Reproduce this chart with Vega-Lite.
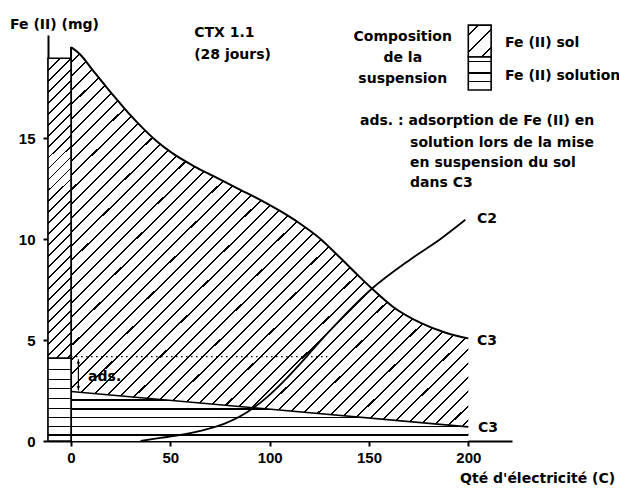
{
  "$schema": "https://vega.github.io/schema/vega-lite/v6.json",
  "width": 464,
  "height": 406,
  "autosize": "none",
  "padding": {"left": 48, "top": 35, "right": 107, "bottom": 50},
  "background": "white",
  "config": {
    "view": {"stroke": null},
    "text": {"font": "DejaVu Sans", "fontWeight": "bold", "fontSize": 14, "color": "#000"}
  },
  "data": {"values": [{}]},
  "datasets": {
    "sol": [
      {"q": 0, "fe": 19.5}, {"q": 4.5, "fe": 19.15}, {"q": 11, "fe": 18.35}, {"q": 18, "fe": 17.5},
      {"q": 24, "fe": 16.8}, {"q": 30, "fe": 16.12}, {"q": 36, "fe": 15.5}, {"q": 43, "fe": 14.85},
      {"q": 51, "fe": 14.25}, {"q": 62, "fe": 13.6}, {"q": 72, "fe": 13.1}, {"q": 85, "fe": 12.45},
      {"q": 95, "fe": 11.95}, {"q": 105, "fe": 11.4}, {"q": 115, "fe": 10.78}, {"q": 125, "fe": 10.05},
      {"q": 135, "fe": 9.12}, {"q": 145, "fe": 8.15}, {"q": 152, "fe": 7.5}, {"q": 162, "fe": 6.65},
      {"q": 176, "fe": 5.85}, {"q": 189, "fe": 5.35}, {"q": 200, "fe": 5.08}
    ],
    "solution": [{"q": 0, "fe": 2.45}, {"q": 200, "fe": 0.7}],
    "c2": [
      {"q": 35, "fe": 0}, {"q": 45, "fe": 0.15}, {"q": 55, "fe": 0.3}, {"q": 65, "fe": 0.5},
      {"q": 77, "fe": 0.85}, {"q": 89, "fe": 1.45}, {"q": 99, "fe": 2.2}, {"q": 109, "fe": 3.15},
      {"q": 117, "fe": 4.0}, {"q": 125, "fe": 4.9}, {"q": 135, "fe": 5.95}, {"q": 151, "fe": 7.5},
      {"q": 171, "fe": 9.0}, {"q": 186, "fe": 10.0}, {"q": 198.5, "fe": 10.95}
    ],
    "bar": [
      {"part": "sol", "lo": 4.1, "hi": 18.95},
      {"part": "solution", "lo": 0, "hi": 4.1}
    ]
  },
  "layer": [
    {
      "data": {"name": "sol"},
      "mark": {
        "type": "area", "interpolate": "monotone",
        "fill": {"gradient": "linear", "x1": 0, "y1": 0, "x2": 1, "y2": 1, "stops": [
          {"offset": 0, "color": "#fff"},
          {"offset": 0.018, "color": "#fff"}, {"offset": 0.018, "color": "#000"}, {"offset": 0.0206, "color": "#000"}, {"offset": 0.0206, "color": "#fff"},
          {"offset": 0.036, "color": "#fff"}, {"offset": 0.036, "color": "#000"}, {"offset": 0.0386, "color": "#000"}, {"offset": 0.0386, "color": "#fff"},
          {"offset": 0.054, "color": "#fff"}, {"offset": 0.054, "color": "#000"}, {"offset": 0.0566, "color": "#000"}, {"offset": 0.0566, "color": "#fff"},
          {"offset": 0.072, "color": "#fff"}, {"offset": 0.072, "color": "#000"}, {"offset": 0.0746, "color": "#000"}, {"offset": 0.0746, "color": "#fff"},
          {"offset": 0.090, "color": "#fff"}, {"offset": 0.090, "color": "#000"}, {"offset": 0.0926, "color": "#000"}, {"offset": 0.0926, "color": "#fff"},
          {"offset": 0.108, "color": "#fff"}, {"offset": 0.108, "color": "#000"}, {"offset": 0.1106, "color": "#000"}, {"offset": 0.1106, "color": "#fff"},
          {"offset": 0.126, "color": "#fff"}, {"offset": 0.126, "color": "#000"}, {"offset": 0.1286, "color": "#000"}, {"offset": 0.1286, "color": "#fff"},
          {"offset": 0.144, "color": "#fff"}, {"offset": 0.144, "color": "#000"}, {"offset": 0.1466, "color": "#000"}, {"offset": 0.1466, "color": "#fff"},
          {"offset": 0.162, "color": "#fff"}, {"offset": 0.162, "color": "#000"}, {"offset": 0.1646, "color": "#000"}, {"offset": 0.1646, "color": "#fff"},
          {"offset": 0.180, "color": "#fff"}, {"offset": 0.180, "color": "#000"}, {"offset": 0.1826, "color": "#000"}, {"offset": 0.1826, "color": "#fff"},
          {"offset": 0.198, "color": "#fff"}, {"offset": 0.198, "color": "#000"}, {"offset": 0.2006, "color": "#000"}, {"offset": 0.2006, "color": "#fff"},
          {"offset": 0.216, "color": "#fff"}, {"offset": 0.216, "color": "#000"}, {"offset": 0.2186, "color": "#000"}, {"offset": 0.2186, "color": "#fff"},
          {"offset": 0.234, "color": "#fff"}, {"offset": 0.234, "color": "#000"}, {"offset": 0.2366, "color": "#000"}, {"offset": 0.2366, "color": "#fff"},
          {"offset": 0.252, "color": "#fff"}, {"offset": 0.252, "color": "#000"}, {"offset": 0.2546, "color": "#000"}, {"offset": 0.2546, "color": "#fff"},
          {"offset": 0.270, "color": "#fff"}, {"offset": 0.270, "color": "#000"}, {"offset": 0.2726, "color": "#000"}, {"offset": 0.2726, "color": "#fff"},
          {"offset": 0.288, "color": "#fff"}, {"offset": 0.288, "color": "#000"}, {"offset": 0.2906, "color": "#000"}, {"offset": 0.2906, "color": "#fff"},
          {"offset": 0.306, "color": "#fff"}, {"offset": 0.306, "color": "#000"}, {"offset": 0.3086, "color": "#000"}, {"offset": 0.3086, "color": "#fff"},
          {"offset": 0.324, "color": "#fff"}, {"offset": 0.324, "color": "#000"}, {"offset": 0.3266, "color": "#000"}, {"offset": 0.3266, "color": "#fff"},
          {"offset": 0.342, "color": "#fff"}, {"offset": 0.342, "color": "#000"}, {"offset": 0.3446, "color": "#000"}, {"offset": 0.3446, "color": "#fff"},
          {"offset": 0.360, "color": "#fff"}, {"offset": 0.360, "color": "#000"}, {"offset": 0.3626, "color": "#000"}, {"offset": 0.3626, "color": "#fff"},
          {"offset": 0.378, "color": "#fff"}, {"offset": 0.378, "color": "#000"}, {"offset": 0.3806, "color": "#000"}, {"offset": 0.3806, "color": "#fff"},
          {"offset": 0.396, "color": "#fff"}, {"offset": 0.396, "color": "#000"}, {"offset": 0.3986, "color": "#000"}, {"offset": 0.3986, "color": "#fff"},
          {"offset": 0.414, "color": "#fff"}, {"offset": 0.414, "color": "#000"}, {"offset": 0.4166, "color": "#000"}, {"offset": 0.4166, "color": "#fff"},
          {"offset": 0.432, "color": "#fff"}, {"offset": 0.432, "color": "#000"}, {"offset": 0.4346, "color": "#000"}, {"offset": 0.4346, "color": "#fff"},
          {"offset": 0.450, "color": "#fff"}, {"offset": 0.450, "color": "#000"}, {"offset": 0.4526, "color": "#000"}, {"offset": 0.4526, "color": "#fff"},
          {"offset": 0.468, "color": "#fff"}, {"offset": 0.468, "color": "#000"}, {"offset": 0.4706, "color": "#000"}, {"offset": 0.4706, "color": "#fff"},
          {"offset": 0.486, "color": "#fff"}, {"offset": 0.486, "color": "#000"}, {"offset": 0.4886, "color": "#000"}, {"offset": 0.4886, "color": "#fff"},
          {"offset": 0.504, "color": "#fff"}, {"offset": 0.504, "color": "#000"}, {"offset": 0.5066, "color": "#000"}, {"offset": 0.5066, "color": "#fff"},
          {"offset": 0.522, "color": "#fff"}, {"offset": 0.522, "color": "#000"}, {"offset": 0.5246, "color": "#000"}, {"offset": 0.5246, "color": "#fff"},
          {"offset": 0.540, "color": "#fff"}, {"offset": 0.540, "color": "#000"}, {"offset": 0.5426, "color": "#000"}, {"offset": 0.5426, "color": "#fff"},
          {"offset": 0.558, "color": "#fff"}, {"offset": 0.558, "color": "#000"}, {"offset": 0.5606, "color": "#000"}, {"offset": 0.5606, "color": "#fff"},
          {"offset": 0.576, "color": "#fff"}, {"offset": 0.576, "color": "#000"}, {"offset": 0.5786, "color": "#000"}, {"offset": 0.5786, "color": "#fff"},
          {"offset": 0.594, "color": "#fff"}, {"offset": 0.594, "color": "#000"}, {"offset": 0.5966, "color": "#000"}, {"offset": 0.5966, "color": "#fff"},
          {"offset": 0.612, "color": "#fff"}, {"offset": 0.612, "color": "#000"}, {"offset": 0.6146, "color": "#000"}, {"offset": 0.6146, "color": "#fff"},
          {"offset": 0.630, "color": "#fff"}, {"offset": 0.630, "color": "#000"}, {"offset": 0.6326, "color": "#000"}, {"offset": 0.6326, "color": "#fff"},
          {"offset": 0.648, "color": "#fff"}, {"offset": 0.648, "color": "#000"}, {"offset": 0.6506, "color": "#000"}, {"offset": 0.6506, "color": "#fff"},
          {"offset": 0.666, "color": "#fff"}, {"offset": 0.666, "color": "#000"}, {"offset": 0.6686, "color": "#000"}, {"offset": 0.6686, "color": "#fff"},
          {"offset": 0.684, "color": "#fff"}, {"offset": 0.684, "color": "#000"}, {"offset": 0.6866, "color": "#000"}, {"offset": 0.6866, "color": "#fff"},
          {"offset": 0.702, "color": "#fff"}, {"offset": 0.702, "color": "#000"}, {"offset": 0.7046, "color": "#000"}, {"offset": 0.7046, "color": "#fff"},
          {"offset": 0.720, "color": "#fff"}, {"offset": 0.720, "color": "#000"}, {"offset": 0.7226, "color": "#000"}, {"offset": 0.7226, "color": "#fff"},
          {"offset": 0.738, "color": "#fff"}, {"offset": 0.738, "color": "#000"}, {"offset": 0.7406, "color": "#000"}, {"offset": 0.7406, "color": "#fff"},
          {"offset": 0.756, "color": "#fff"}, {"offset": 0.756, "color": "#000"}, {"offset": 0.7586, "color": "#000"}, {"offset": 0.7586, "color": "#fff"},
          {"offset": 0.774, "color": "#fff"}, {"offset": 0.774, "color": "#000"}, {"offset": 0.7766, "color": "#000"}, {"offset": 0.7766, "color": "#fff"},
          {"offset": 0.792, "color": "#fff"}, {"offset": 0.792, "color": "#000"}, {"offset": 0.7946, "color": "#000"}, {"offset": 0.7946, "color": "#fff"},
          {"offset": 0.810, "color": "#fff"}, {"offset": 0.810, "color": "#000"}, {"offset": 0.8126, "color": "#000"}, {"offset": 0.8126, "color": "#fff"},
          {"offset": 0.828, "color": "#fff"}, {"offset": 0.828, "color": "#000"}, {"offset": 0.8306, "color": "#000"}, {"offset": 0.8306, "color": "#fff"},
          {"offset": 0.846, "color": "#fff"}, {"offset": 0.846, "color": "#000"}, {"offset": 0.8486, "color": "#000"}, {"offset": 0.8486, "color": "#fff"},
          {"offset": 0.864, "color": "#fff"}, {"offset": 0.864, "color": "#000"}, {"offset": 0.8666, "color": "#000"}, {"offset": 0.8666, "color": "#fff"},
          {"offset": 0.882, "color": "#fff"}, {"offset": 0.882, "color": "#000"}, {"offset": 0.8846, "color": "#000"}, {"offset": 0.8846, "color": "#fff"},
          {"offset": 0.900, "color": "#fff"}, {"offset": 0.900, "color": "#000"}, {"offset": 0.9026, "color": "#000"}, {"offset": 0.9026, "color": "#fff"},
          {"offset": 0.918, "color": "#fff"}, {"offset": 0.918, "color": "#000"}, {"offset": 0.9206, "color": "#000"}, {"offset": 0.9206, "color": "#fff"},
          {"offset": 0.936, "color": "#fff"}, {"offset": 0.936, "color": "#000"}, {"offset": 0.9386, "color": "#000"}, {"offset": 0.9386, "color": "#fff"},
          {"offset": 0.954, "color": "#fff"}, {"offset": 0.954, "color": "#000"}, {"offset": 0.9566, "color": "#000"}, {"offset": 0.9566, "color": "#fff"},
          {"offset": 0.972, "color": "#fff"}, {"offset": 0.972, "color": "#000"}, {"offset": 0.9746, "color": "#000"}, {"offset": 0.9746, "color": "#fff"},
          {"offset": 0.990, "color": "#fff"}, {"offset": 0.990, "color": "#000"}, {"offset": 0.9926, "color": "#000"}, {"offset": 0.9926, "color": "#fff"},
          {"offset": 1, "color": "#fff"}
        ]}
      },
      "encoding": {
        "x": {
          "field": "q", "type": "quantitative",
          "scale": {"domain": [-11.6, 222], "nice": false, "zero": false},
          "axis": {"values": [0, 50, 100, 150, 200], "title": null, "grid": false,
            "domainColor": "#000", "domainWidth": 2, "tickColor": "#000", "tickWidth": 2, "tickSize": 5,
            "labelFont": "Liberation Sans", "labelFontWeight": "bold", "labelFontSize": 15, "labelColor": "#000",
            "labelPadding": 4, "labelFlush": false}
        },
        "y": {
          "field": "fe", "type": "quantitative",
          "scale": {"domain": [0, 20.1], "nice": false, "zero": false},
          "axis": {"values": [0, 5, 10, 15], "title": null, "grid": false,
            "domainColor": "#000", "domainWidth": 2, "tickColor": "#000", "tickWidth": 2, "tickSize": 5,
            "labelFont": "Liberation Sans", "labelFontWeight": "bold", "labelFontSize": 15, "labelColor": "#000",
            "labelPadding": 8, "labelFlush": false}
        }
      }
    },
    {
      "data": {"name": "solution"},
      "mark": {
        "type": "area", "interpolate": "linear",
        "fill": {"gradient": "linear", "x1": 0, "y1": 0, "x2": 0, "y2": 1, "stops": [
          {"offset": 0, "color": "#fff"},
          {"offset": 0.159, "color": "#fff"}, {"offset": 0.159, "color": "#000"}, {"offset": 0.185, "color": "#000"}, {"offset": 0.185, "color": "#fff"},
          {"offset": 0.341, "color": "#fff"}, {"offset": 0.341, "color": "#000"}, {"offset": 0.367, "color": "#000"}, {"offset": 0.367, "color": "#fff"},
          {"offset": 0.508, "color": "#fff"}, {"offset": 0.508, "color": "#000"}, {"offset": 0.534, "color": "#000"}, {"offset": 0.534, "color": "#fff"},
          {"offset": 0.698, "color": "#fff"}, {"offset": 0.698, "color": "#000"}, {"offset": 0.724, "color": "#000"}, {"offset": 0.724, "color": "#fff"},
          {"offset": 0.866, "color": "#fff"}, {"offset": 0.866, "color": "#000"}, {"offset": 0.892, "color": "#000"}, {"offset": 0.892, "color": "#fff"},
          {"offset": 1, "color": "#fff"}
        ]}
      },
      "encoding": {
        "x": {"field": "q", "type": "quantitative"},
        "y": {"field": "fe", "type": "quantitative"}
      }
    },
    {
      "data": {"name": "sol"},
      "mark": {"type": "line", "interpolate": "monotone", "color": "#000", "strokeWidth": 2},
      "encoding": {
        "x": {"field": "q", "type": "quantitative"},
        "y": {"field": "fe", "type": "quantitative"}
      }
    },
    {
      "data": {"name": "solution"},
      "mark": {"type": "line", "color": "#000", "strokeWidth": 1.6},
      "encoding": {
        "x": {"field": "q", "type": "quantitative"},
        "y": {"field": "fe", "type": "quantitative"}
      }
    },
    {
      "mark": {"type": "rule", "color": "#000", "strokeWidth": 2},
      "encoding": {
        "x": {"datum": 0},
        "y": {"datum": 0},
        "y2": {"datum": 19.5}
      }
    },
    {
      "data": {"name": "bar"},
      "transform": [{"filter": "datum.part === 'sol'"}],
      "mark": {
        "type": "rect", "stroke": "#000", "strokeWidth": 1.6,
        "fill": {"gradient": "linear", "x1": 0, "y1": 0, "x2": 0.0821, "y2": 1.0704, "stops": [
          {"offset": 0, "color": "#fff"},
          {"offset": 0.034, "color": "#fff"}, {"offset": 0.034, "color": "#000"}, {"offset": 0.040, "color": "#000"}, {"offset": 0.040, "color": "#fff"},
          {"offset": 0.068, "color": "#fff"}, {"offset": 0.068, "color": "#000"}, {"offset": 0.074, "color": "#000"}, {"offset": 0.074, "color": "#fff"},
          {"offset": 0.102, "color": "#fff"}, {"offset": 0.102, "color": "#000"}, {"offset": 0.108, "color": "#000"}, {"offset": 0.108, "color": "#fff"},
          {"offset": 0.136, "color": "#fff"}, {"offset": 0.136, "color": "#000"}, {"offset": 0.142, "color": "#000"}, {"offset": 0.142, "color": "#fff"},
          {"offset": 0.170, "color": "#fff"}, {"offset": 0.170, "color": "#000"}, {"offset": 0.176, "color": "#000"}, {"offset": 0.176, "color": "#fff"},
          {"offset": 0.204, "color": "#fff"}, {"offset": 0.204, "color": "#000"}, {"offset": 0.210, "color": "#000"}, {"offset": 0.210, "color": "#fff"},
          {"offset": 0.238, "color": "#fff"}, {"offset": 0.238, "color": "#000"}, {"offset": 0.244, "color": "#000"}, {"offset": 0.244, "color": "#fff"},
          {"offset": 0.272, "color": "#fff"}, {"offset": 0.272, "color": "#000"}, {"offset": 0.278, "color": "#000"}, {"offset": 0.278, "color": "#fff"},
          {"offset": 0.306, "color": "#fff"}, {"offset": 0.306, "color": "#000"}, {"offset": 0.312, "color": "#000"}, {"offset": 0.312, "color": "#fff"},
          {"offset": 0.340, "color": "#fff"}, {"offset": 0.340, "color": "#000"}, {"offset": 0.346, "color": "#000"}, {"offset": 0.346, "color": "#fff"},
          {"offset": 0.374, "color": "#fff"}, {"offset": 0.374, "color": "#000"}, {"offset": 0.380, "color": "#000"}, {"offset": 0.380, "color": "#fff"},
          {"offset": 0.408, "color": "#fff"}, {"offset": 0.408, "color": "#000"}, {"offset": 0.414, "color": "#000"}, {"offset": 0.414, "color": "#fff"},
          {"offset": 0.442, "color": "#fff"}, {"offset": 0.442, "color": "#000"}, {"offset": 0.448, "color": "#000"}, {"offset": 0.448, "color": "#fff"},
          {"offset": 0.476, "color": "#fff"}, {"offset": 0.476, "color": "#000"}, {"offset": 0.482, "color": "#000"}, {"offset": 0.482, "color": "#fff"},
          {"offset": 0.510, "color": "#fff"}, {"offset": 0.510, "color": "#000"}, {"offset": 0.516, "color": "#000"}, {"offset": 0.516, "color": "#fff"},
          {"offset": 0.544, "color": "#fff"}, {"offset": 0.544, "color": "#000"}, {"offset": 0.550, "color": "#000"}, {"offset": 0.550, "color": "#fff"},
          {"offset": 0.578, "color": "#fff"}, {"offset": 0.578, "color": "#000"}, {"offset": 0.584, "color": "#000"}, {"offset": 0.584, "color": "#fff"},
          {"offset": 0.612, "color": "#fff"}, {"offset": 0.612, "color": "#000"}, {"offset": 0.618, "color": "#000"}, {"offset": 0.618, "color": "#fff"},
          {"offset": 0.646, "color": "#fff"}, {"offset": 0.646, "color": "#000"}, {"offset": 0.652, "color": "#000"}, {"offset": 0.652, "color": "#fff"},
          {"offset": 0.680, "color": "#fff"}, {"offset": 0.680, "color": "#000"}, {"offset": 0.686, "color": "#000"}, {"offset": 0.686, "color": "#fff"},
          {"offset": 0.714, "color": "#fff"}, {"offset": 0.714, "color": "#000"}, {"offset": 0.720, "color": "#000"}, {"offset": 0.720, "color": "#fff"},
          {"offset": 0.748, "color": "#fff"}, {"offset": 0.748, "color": "#000"}, {"offset": 0.754, "color": "#000"}, {"offset": 0.754, "color": "#fff"},
          {"offset": 0.782, "color": "#fff"}, {"offset": 0.782, "color": "#000"}, {"offset": 0.788, "color": "#000"}, {"offset": 0.788, "color": "#fff"},
          {"offset": 0.816, "color": "#fff"}, {"offset": 0.816, "color": "#000"}, {"offset": 0.822, "color": "#000"}, {"offset": 0.822, "color": "#fff"},
          {"offset": 0.850, "color": "#fff"}, {"offset": 0.850, "color": "#000"}, {"offset": 0.856, "color": "#000"}, {"offset": 0.856, "color": "#fff"},
          {"offset": 0.884, "color": "#fff"}, {"offset": 0.884, "color": "#000"}, {"offset": 0.890, "color": "#000"}, {"offset": 0.890, "color": "#fff"},
          {"offset": 0.918, "color": "#fff"}, {"offset": 0.918, "color": "#000"}, {"offset": 0.924, "color": "#000"}, {"offset": 0.924, "color": "#fff"},
          {"offset": 0.952, "color": "#fff"}, {"offset": 0.952, "color": "#000"}, {"offset": 0.958, "color": "#000"}, {"offset": 0.958, "color": "#fff"},
          {"offset": 0.986, "color": "#fff"}, {"offset": 0.986, "color": "#000"}, {"offset": 0.992, "color": "#000"}, {"offset": 0.992, "color": "#fff"},
          {"offset": 1, "color": "#fff"}
        ]}
      },
      "encoding": {
        "x": {"datum": -11.6},
        "x2": {"datum": 0},
        "y": {"field": "lo", "type": "quantitative"},
        "y2": {"field": "hi"}
      }
    },
    {
      "data": {"name": "bar"},
      "transform": [{"filter": "datum.part === 'solution'"}],
      "mark": {
        "type": "rect", "stroke": "#000", "strokeWidth": 1.6,
        "fill": {"gradient": "linear", "x1": 0, "y1": 0, "x2": 0, "y2": 1, "stops": [
          {"offset": 0, "color": "#fff"},
          {"offset": 0.126, "color": "#fff"}, {"offset": 0.126, "color": "#000"}, {"offset": 0.142, "color": "#000"}, {"offset": 0.142, "color": "#fff"},
          {"offset": 0.247, "color": "#fff"}, {"offset": 0.247, "color": "#000"}, {"offset": 0.263, "color": "#000"}, {"offset": 0.263, "color": "#fff"},
          {"offset": 0.356, "color": "#fff"}, {"offset": 0.356, "color": "#000"}, {"offset": 0.372, "color": "#000"}, {"offset": 0.372, "color": "#fff"},
          {"offset": 0.476, "color": "#fff"}, {"offset": 0.476, "color": "#000"}, {"offset": 0.492, "color": "#000"}, {"offset": 0.492, "color": "#fff"},
          {"offset": 0.597, "color": "#fff"}, {"offset": 0.597, "color": "#000"}, {"offset": 0.613, "color": "#000"}, {"offset": 0.613, "color": "#fff"},
          {"offset": 0.711, "color": "#fff"}, {"offset": 0.711, "color": "#000"}, {"offset": 0.727, "color": "#000"}, {"offset": 0.727, "color": "#fff"},
          {"offset": 0.819, "color": "#fff"}, {"offset": 0.819, "color": "#000"}, {"offset": 0.835, "color": "#000"}, {"offset": 0.835, "color": "#fff"},
          {"offset": 0.920, "color": "#fff"}, {"offset": 0.920, "color": "#000"}, {"offset": 0.936, "color": "#000"}, {"offset": 0.936, "color": "#fff"},
          {"offset": 1, "color": "#fff"}
        ]}
      },
      "encoding": {
        "x": {"datum": -11.6},
        "x2": {"datum": 0},
        "y": {"field": "lo", "type": "quantitative"},
        "y2": {"field": "hi"}
      }
    },
    {
      "data": {"name": "c2"},
      "mark": {"type": "line", "interpolate": "monotone", "color": "#000", "strokeWidth": 1.8},
      "encoding": {
        "x": {"field": "q", "type": "quantitative"},
        "y": {"field": "fe", "type": "quantitative"}
      }
    },
    {
      "mark": {"type": "rule", "color": "#000", "strokeWidth": 1.3, "strokeDash": [1.5, 3.5]},
      "encoding": {
        "x": {"datum": 0},
        "x2": {"datum": 129},
        "y": {"datum": 4.18}
      }
    },
    {
      "mark": {"type": "rule", "color": "#000", "strokeWidth": 1.2},
      "encoding": {
        "x": {"datum": 3.7},
        "y": {"datum": 2.5},
        "y2": {"datum": 4.05}
      }
    },
    {
      "mark": {"type": "point", "shape": "triangle-up", "filled": true, "color": "#000", "size": 14, "opacity": 1},
      "encoding": {
        "x": {"datum": 3.7},
        "y": {"datum": 3.92}
      }
    },
    {
      "mark": {"type": "point", "shape": "triangle-down", "filled": true, "color": "#000", "size": 14, "opacity": 1},
      "encoding": {
        "x": {"datum": 3.7},
        "y": {"datum": 2.63}
      }
    },
    {
      "mark": {
        "type": "rect", "stroke": "#000", "strokeWidth": 1.6,
        "fill": {"gradient": "linear", "x1": 0, "y1": 0, "x2": 0.815, "y2": 1.133, "stops": [
          {"offset": 0, "color": "#fff"},
          {"offset": 0.16, "color": "#fff"}, {"offset": 0.16, "color": "#000"}, {"offset": 0.2, "color": "#000"}, {"offset": 0.2, "color": "#fff"},
          {"offset": 0.48, "color": "#fff"}, {"offset": 0.48, "color": "#000"}, {"offset": 0.52, "color": "#000"}, {"offset": 0.52, "color": "#fff"},
          {"offset": 0.8, "color": "#fff"}, {"offset": 0.8, "color": "#000"}, {"offset": 0.84, "color": "#000"}, {"offset": 0.84, "color": "#fff"},
          {"offset": 1, "color": "#fff"}
        ]}
      },
      "encoding": {
        "x": {"datum": 200},
        "x2": {"datum": 211.5},
        "y": {"datum": 19.01},
        "y2": {"datum": 20.59}
      }
    },
    {
      "mark": {
        "type": "rect", "stroke": "#000", "strokeWidth": 1.6,
        "fill": {"gradient": "linear", "x1": 0, "y1": 0, "x2": 0, "y2": 1, "stops": [
          {"offset": 0, "color": "#fff"},
          {"offset": 0.12, "color": "#fff"}, {"offset": 0.12, "color": "#000"}, {"offset": 0.16, "color": "#000"}, {"offset": 0.16, "color": "#fff"},
          {"offset": 0.47, "color": "#fff"}, {"offset": 0.47, "color": "#000"}, {"offset": 0.51, "color": "#000"}, {"offset": 0.51, "color": "#fff"},
          {"offset": 0.73, "color": "#fff"}, {"offset": 0.73, "color": "#000"}, {"offset": 0.77, "color": "#000"}, {"offset": 0.77, "color": "#fff"},
          {"offset": 1, "color": "#fff"}
        ]}
      },
      "encoding": {
        "x": {"datum": 200},
        "x2": {"datum": 211.5},
        "y": {"datum": 17.38},
        "y2": {"datum": 19.01}
      }
    },
    {
      "mark": {"type": "text", "text": "Fe (II) (mg)", "align": "left", "baseline": "middle"},
      "encoding": {"x": {"datum": -30.7}, "y": {"datum": 20.6}}
    },
    {
      "mark": {"type": "text", "text": ["CTX 1.1", "(28 jours)"], "align": "left", "baseline": "middle", "lineHeight": 22},
      "encoding": {"x": {"datum": 62}, "y": {"datum": 20.2}}
    },
    {
      "mark": {"type": "text", "text": ["Composition", "de la", "suspension"], "align": "center", "baseline": "middle", "lineHeight": 21},
      "encoding": {"x": {"datum": 167}, "y": {"datum": 20.0}}
    },
    {
      "mark": {"type": "text", "text": "Fe (II) sol", "align": "left", "baseline": "middle"},
      "encoding": {"x": {"datum": 218.5}, "y": {"datum": 19.7}}
    },
    {
      "mark": {"type": "text", "text": "Fe (II) solution", "align": "left", "baseline": "middle"},
      "encoding": {"x": {"datum": 218.5}, "y": {"datum": 18.07}}
    },
    {
      "mark": {"type": "text", "text": "ads. : adsorption de Fe (II) en", "align": "left", "baseline": "middle"},
      "encoding": {"x": {"datum": 145.5}, "y": {"datum": 15.84}}
    },
    {
      "mark": {"type": "text", "text": ["solution lors de la mise", "en suspension du sol", "dans C3"], "align": "left", "baseline": "middle", "lineHeight": 20},
      "encoding": {"x": {"datum": 170.7}, "y": {"datum": 14.75}}
    },
    {
      "mark": {"type": "text", "text": "C2", "align": "left", "baseline": "middle"},
      "encoding": {"x": {"datum": 204.4}, "y": {"datum": 10.99}}
    },
    {
      "mark": {"type": "text", "text": "C3", "align": "left", "baseline": "middle"},
      "encoding": {"x": {"datum": 204.4}, "y": {"datum": 4.95}}
    },
    {
      "mark": {"type": "text", "text": "C3", "align": "left", "baseline": "middle"},
      "encoding": {"x": {"datum": 204.9}, "y": {"datum": 0.64}}
    },
    {
      "mark": {"type": "text", "text": "Qté d'électricité (C)", "align": "right", "baseline": "middle"},
      "encoding": {"x": {"datum": 273.9}, "y": {"datum": -1.88}}
    },
    {
      "mark": {"type": "text", "text": "ads.", "align": "left", "baseline": "middle"},
      "encoding": {"x": {"datum": 8.6}, "y": {"datum": 3.17}}
    }
  ]
}
